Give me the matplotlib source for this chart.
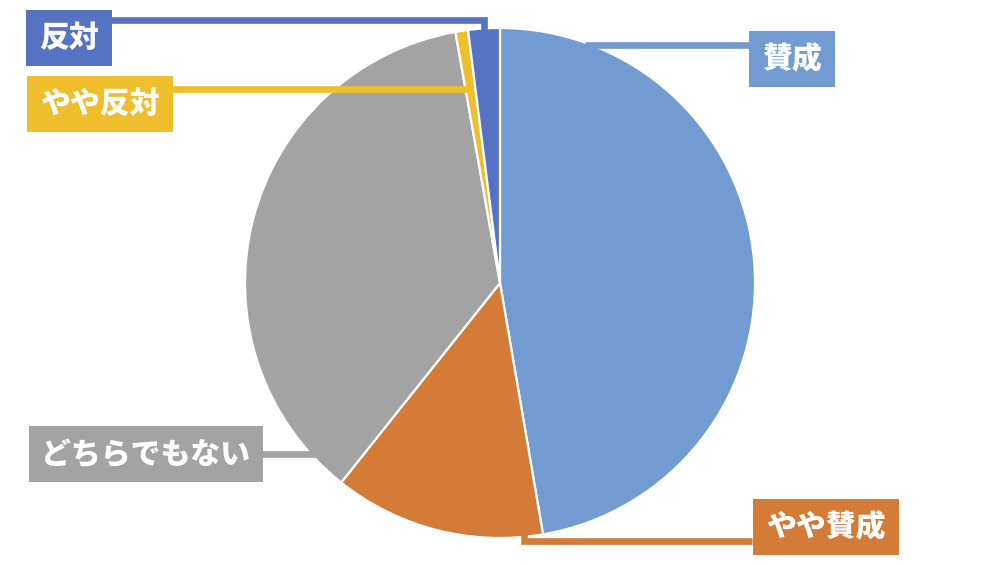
"""
pie chart with boxed labels (賛成 / 反対)
"""

import matplotlib
matplotlib.use('Agg')
from matplotlib import pyplot as plt

plt.rcParams['font.family'] = ['Noto Sans CJK JP', 'DejaVu Sans']

labels = ['賛成', 'やや賛成', 'どちらでもない', 'やや反対', '反対']
values = [47.3, 13.4, 36.5, 0.8, 2.0]
colors = ['#729BD2', '#D57B38', '#A3A3A3', '#EFBE2D', '#5573C2']

W, H = 1000, 565

# label box centres and leader lines, in pixels from top-left
box_pos = {
	'賛成': (792, 59),
	'やや賛成': (826, 527),
	'どちらでもない': (146, 454),
	'やや反対': (100, 104),
	'反対': (69, 38),
}
leaders = {
	'賛成': [(585, 45), (752, 45)],
	'やや賛成': [(524, 533), (524, 541), (752, 541)],
	'どちらでもない': [(262, 454), (318, 454)],
	'やや反対': [(170, 89), (468, 89)],
	'反対': [(108, 20), (484, 20), (484, 30)],
}

def px(p):
	# pixel coords (y down) -> data coords (y up)
	return p[0], H - p[1]

def draw():
	fig = plt.figure(figsize=(W / 100, H / 100), dpi=100)
	ax = fig.add_axes([0, 0, 1, 1])
	ax.set_xlim(0, W)
	ax.set_ylim(0, H)
	ax.set_aspect('equal')
	ax.axis('off')

	ax.pie(values, colors=colors, startangle=90, counterclock=False,
		center=px((500, 283)), radius=255,
		wedgeprops=dict(edgecolor='white', linewidth=1.6))
	ax.set_xlim(0, W)
	ax.set_ylim(0, H)

	for lab, col in zip(labels, colors):
		pts = [px(p) for p in leaders[lab]]
		xs = [p[0] for p in pts]
		ys = [p[1] for p in pts]
		ax.plot(xs, ys, color=col, lw=4.8, solid_capstyle='butt',
			solid_joinstyle='miter', zorder=3)
		x, y = px(box_pos[lab])
		ax.text(x, y, lab, color='white', fontsize=21.5, fontweight='black',
			ha='center', va='center', zorder=4,
			bbox=dict(boxstyle='square,pad=0.43', fc=col, ec='none'))

	fig.savefig('out.png', dpi=100)

if __name__ == '__main__':
	draw()
